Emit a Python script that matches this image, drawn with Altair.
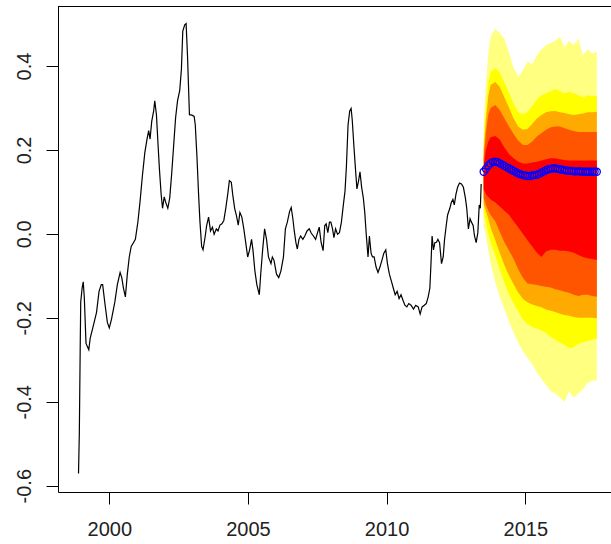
import altair as alt
import pandas as pd

# ---- historical series (decimal year, value) ----
hist_year = [1998.89, 1998.92, 1998.95, 1998.97, 1999.02, 1999.06, 1999.10, 1999.16, 1999.26, 1999.31,
             1999.42, 1999.54, 1999.63, 1999.71, 1999.76, 1999.85, 1999.93, 2000.00, 2000.08, 2000.20,
             2000.29, 2000.39, 2000.45, 2000.51, 2000.58, 2000.65, 2000.72, 2000.79, 2000.87, 2000.94,
             2001.03, 2001.11, 2001.19, 2001.28, 2001.36, 2001.42, 2001.47, 2001.53, 2001.60, 2001.64,
             2001.70, 2001.76, 2001.81, 2001.87, 2001.92, 2001.98, 2002.04, 2002.11, 2002.18, 2002.25,
             2002.32, 2002.39, 2002.46, 2002.54, 2002.60, 2002.65, 2002.72, 2002.77, 2002.82, 2002.89,
             2002.98, 2003.06, 2003.10, 2003.16, 2003.22, 2003.27, 2003.33, 2003.38, 2003.46, 2003.51,
             2003.58, 2003.65, 2003.72, 2003.78, 2003.86, 2003.92, 2003.99, 2004.06, 2004.13, 2004.20,
             2004.27, 2004.33, 2004.40, 2004.45, 2004.52, 2004.58, 2004.65, 2004.71, 2004.78, 2004.85,
             2004.92, 2004.99, 2005.06, 2005.13, 2005.18, 2005.25, 2005.32, 2005.41, 2005.46, 2005.53,
             2005.60, 2005.67, 2005.74, 2005.83, 2005.88, 2005.94, 2006.03, 2006.11, 2006.19, 2006.28,
             2006.35, 2006.42, 2006.50, 2006.56, 2006.62, 2006.67, 2006.73, 2006.78, 2006.84, 2006.90,
             2006.98, 2007.05, 2007.13, 2007.21, 2007.28, 2007.36, 2007.44, 2007.51, 2007.57, 2007.64,
             2007.71, 2007.77, 2007.82, 2007.88, 2007.94, 2007.99, 2008.05, 2008.10, 2008.16, 2008.23,
             2008.30, 2008.37, 2008.44, 2008.50, 2008.55, 2008.61, 2008.67, 2008.72, 2008.76, 2008.82,
             2008.88, 2008.93, 2008.99, 2009.04, 2009.10, 2009.16, 2009.21, 2009.27, 2009.33, 2009.38,
             2009.44, 2009.49, 2009.55, 2009.62, 2009.69, 2009.76, 2009.83, 2009.90, 2009.97, 2010.03,
             2010.10, 2010.17, 2010.24, 2010.31, 2010.38, 2010.45, 2010.52, 2010.59, 2010.66, 2010.73,
             2010.80, 2010.88, 2010.97, 2011.05, 2011.14, 2011.21, 2011.28, 2011.36, 2011.43, 2011.50,
             2011.56, 2011.60, 2011.64, 2011.69, 2011.74, 2011.80, 2011.85, 2011.91, 2011.98, 2012.04,
             2012.09, 2012.15, 2012.20, 2012.28, 2012.33, 2012.39, 2012.44, 2012.50, 2012.56, 2012.63,
             2012.70, 2012.77, 2012.84, 2012.89, 2012.95, 2013.01, 2013.06, 2013.12, 2013.17, 2013.23,
             2013.29, 2013.34, 2013.38, 2013.41]

hist_value = [-0.571, -0.472, -0.276, -0.162, -0.129, -0.114, -0.154, -0.261, -0.276, -0.249,
              -0.220, -0.187, -0.137, -0.121, -0.121, -0.170, -0.211, -0.224, -0.203, -0.162,
              -0.121, -0.092, -0.104, -0.129, -0.150, -0.096, -0.055, -0.030, -0.021, -0.013,
              0.028, 0.078, 0.136, 0.193, 0.226, 0.246, 0.226, 0.268, 0.293, 0.317,
              0.284, 0.210, 0.152, 0.094, 0.061, 0.088, 0.074, 0.061, 0.086, 0.144,
              0.210, 0.276, 0.317, 0.342, 0.392, 0.483, 0.498, 0.501, 0.425, 0.284,
              0.283, 0.280, 0.260, 0.185, 0.094, 0.028, -0.030, -0.038, -0.005, 0.020,
              0.040, 0.007, 0.016, -0.001, 0.012, 0.007, 0.021, 0.024, 0.032, 0.061,
              0.094, 0.127, 0.123, 0.094, 0.061, 0.045, 0.021, 0.051, 0.040, 0.012,
              -0.021, -0.055, -0.038, -0.013, -0.038, -0.088, -0.121, -0.145, -0.096, -0.038,
              0.012, -0.013, -0.055, -0.071, -0.055, -0.063, -0.096, -0.104, -0.088, -0.055,
              0.012, 0.028, 0.053, 0.063, 0.036, 0.007, -0.021, -0.036, -0.013, -0.005,
              -0.013, -0.005, 0.007, 0.012, 0.002, -0.005, -0.013, 0.003, 0.016, -0.021,
              -0.040, 0.020, 0.024, 0.003, 0.028, 0.028, 0.012, -0.009, 0.012, -0.001,
              0.003, 0.028, 0.069, 0.102, 0.160, 0.260, 0.293, 0.299, 0.272, 0.210,
              0.152, 0.107, 0.127, 0.148, 0.111, 0.086, 0.053, -0.005, -0.055, -0.005,
              -0.046, -0.055, -0.055, -0.079, -0.092, -0.079, -0.063, -0.046, -0.038, -0.071,
              -0.096, -0.112, -0.129, -0.145, -0.137, -0.154, -0.145, -0.158, -0.170, -0.174,
              -0.166, -0.170, -0.179, -0.170, -0.174, -0.191, -0.174, -0.170, -0.166, -0.150,
              -0.129, -0.071, -0.005, -0.038, -0.021, -0.020, -0.013, -0.021, -0.071, -0.055,
              -0.013, 0.020, 0.045, 0.061, 0.074, 0.082, 0.069, 0.094, 0.111, 0.121,
              0.119, 0.111, 0.086, 0.061, 0.012, 0.036, 0.028, 0.020, -0.005, -0.021,
              0.003, 0.069, 0.061, 0.119]

# ---- fan bounds (outer band 5 ... inner band 1) ----
fan_year = [2013.50, 2013.58, 2013.67, 2013.75, 2013.92, 2014.08, 2014.25, 2014.42, 2014.58,
            2014.75, 2014.92, 2015.08, 2015.25, 2015.42, 2015.58, 2015.75, 2015.92, 2016.08,
            2016.25, 2016.42, 2016.58, 2016.75, 2016.92, 2017.08, 2017.25, 2017.42, 2017.58]

upper5 = [0.25, 0.36, 0.43, 0.47, 0.489, 0.478, 0.465, 0.43, 0.395, 0.375, 0.39, 0.41, 0.405, 0.425,
          0.44, 0.45, 0.455, 0.46, 0.47, 0.445, 0.46, 0.45, 0.465, 0.425, 0.44, 0.43, 0.434]
upper4 = [0.22, 0.30, 0.36, 0.385, 0.395, 0.385, 0.36, 0.335, 0.31, 0.29, 0.285, 0.29, 0.305, 0.32,
          0.33, 0.335, 0.34, 0.345, 0.34, 0.335, 0.338, 0.335, 0.33, 0.325, 0.33, 0.328, 0.33]
upper3 = [0.20, 0.27, 0.33, 0.355, 0.362, 0.35, 0.325, 0.30, 0.275, 0.255, 0.248, 0.25, 0.262, 0.275,
          0.283, 0.29, 0.292, 0.293, 0.29, 0.288, 0.285, 0.283, 0.285, 0.287, 0.29, 0.29, 0.291]
upper2 = [0.18, 0.24, 0.285, 0.30, 0.307, 0.295, 0.275, 0.255, 0.238, 0.222, 0.212, 0.212, 0.22, 0.232,
          0.24, 0.248, 0.254, 0.256, 0.256, 0.252, 0.248, 0.245, 0.243, 0.243, 0.243, 0.243, 0.243]
upper1 = [0.16, 0.20, 0.22, 0.23, 0.233, 0.225, 0.205, 0.19, 0.18, 0.172, 0.168, 0.168, 0.17, 0.172,
          0.175, 0.178, 0.18, 0.18, 0.178, 0.176, 0.175, 0.175, 0.175, 0.175, 0.175, 0.175, 0.175]
lower1 = [0.105, 0.095, 0.088, 0.082, 0.075, 0.065, 0.055, 0.045, 0.03, 0.015, 0.0, -0.015, -0.03, -0.045,
          -0.055, -0.042, -0.038, -0.038, -0.04, -0.04, -0.042, -0.045, -0.05, -0.055, -0.058, -0.06, -0.062]
lower2 = [0.085, 0.07, 0.055, 0.045, 0.03, 0.005, -0.02, -0.04, -0.06, -0.085, -0.105, -0.118, -0.12, -0.122,
          -0.124, -0.126, -0.128, -0.132, -0.134, -0.138, -0.14, -0.145, -0.148, -0.145, -0.145, -0.148, -0.15]
lower3 = [0.07, 0.055, 0.035, 0.015, -0.015, -0.045, -0.075, -0.10, -0.12, -0.14, -0.155, -0.163, -0.168, -0.172,
          -0.175, -0.18, -0.183, -0.186, -0.19, -0.193, -0.195, -0.198, -0.2, -0.2, -0.2, -0.2, -0.201]
lower4 = [0.05, 0.03, 0.0, -0.02, -0.05, -0.085, -0.115, -0.145, -0.165, -0.185, -0.205, -0.215, -0.222, -0.226,
          -0.23, -0.236, -0.245, -0.252, -0.258, -0.265, -0.272, -0.27, -0.262, -0.258, -0.255, -0.252, -0.249]
lower5 = [0.02, -0.005, -0.04, -0.07, -0.115, -0.15, -0.18, -0.21, -0.235, -0.26, -0.28, -0.295, -0.31, -0.33,
          -0.345, -0.36, -0.375, -0.38, -0.39, -0.40, -0.375, -0.39, -0.38, -0.37, -0.355, -0.35, -0.348]

band_colors = ["#FF0000", "#FF5500", "#FFAA00", "#FFFF00", "#FFFF80"]  # inner -> outer

# ---- forecast points ----
point_year = [2013.50, 2013.58, 2013.67, 2013.75, 2013.83, 2013.92, 2014.00, 2014.08, 2014.17, 2014.25,
              2014.33, 2014.42, 2014.50, 2014.58, 2014.67, 2014.75, 2014.83, 2014.92, 2015.00, 2015.08,
              2015.17, 2015.25, 2015.33, 2015.42, 2015.50, 2015.58, 2015.67, 2015.75, 2015.83, 2015.92,
              2016.00, 2016.08, 2016.17, 2016.25, 2016.33, 2016.42, 2016.50, 2016.58, 2016.67, 2016.75,
              2016.83, 2016.92, 2017.00, 2017.08, 2017.17, 2017.25, 2017.33, 2017.42, 2017.50, 2017.58]
point_value = [0.148, 0.155, 0.163, 0.168, 0.171, 0.172, 0.171, 0.168, 0.165, 0.162,
               0.159, 0.156, 0.153, 0.150, 0.147, 0.144, 0.142, 0.140, 0.139, 0.138,
               0.138, 0.139, 0.140, 0.141, 0.143, 0.146, 0.149, 0.152, 0.154, 0.155,
               0.156, 0.156, 0.155, 0.154, 0.153, 0.152, 0.151, 0.150, 0.150, 0.149,
               0.149, 0.149, 0.149, 0.148, 0.148, 0.148, 0.148, 0.148, 0.148, 0.148]

x_ticks = [2000, 2005, 2010, 2015]
y_ticks = [-0.6, -0.4, -0.2, 0.0, 0.2, 0.4]

FONT = "Liberation Sans"
x_scale = alt.Scale(domain=[1998.150, 2018.092], nice=False, zero=False)
y_scale = alt.Scale(domain=[-0.615, 0.543], nice=False, zero=False)

x_axis = alt.Axis(values=x_ticks, format="d", tickSize=12, tickColor="black", tickWidth=1,
                  domainColor="black", domainWidth=1, labelFont=FONT, labelFontSize=20,
                  labelColor="#222222", labelPadding=31, labelBaseline="alphabetic",
                  labelFlush=False, labelOverlap=False, grid=False, title=None)
y_axis = alt.Axis(values=y_ticks, tickSize=12, tickColor="black", tickWidth=1,
                  domainColor="black", domainWidth=1, labelFont=FONT, labelFontSize=20,
                  labelColor="#222222", labelPadding=16, labelAngle=270, labelAlign="center",
                  labelBaseline="alphabetic", labelFlush=False, labelOverlap=False, grid=False,
                  title=None,
                  labelExpr="(datum.value < -0.0001 ? '-' : '') + format(abs(datum.value), '.1f')")


def X(field):
    return alt.X(field, type="quantitative", scale=x_scale, axis=x_axis, title=None)


def Y(field):
    return alt.Y(field, type="quantitative", scale=y_scale, axis=y_axis, title=None)


uppers = [upper1, upper2, upper3, upper4, upper5]
lowers = [lower1, lower2, lower3, lower4, lower5]

layers = []
for k in range(4, -1, -1):
    df = pd.DataFrame({"year": fan_year, "lo": lowers[k], "hi": uppers[k]})
    layers.append(
        alt.Chart(df).mark_area(color=band_colors[k], interpolate="linear", opacity=1)
        .encode(x=X("year"), y=Y("lo"), y2=alt.Y2("hi"))
    )

hist_df = pd.DataFrame({"year": hist_year, "value": hist_value})
layers.append(
    alt.Chart(hist_df).mark_line(color="black", strokeWidth=1.2)
    .encode(x=X("year"), y=Y("value"))
)

pts_df = pd.DataFrame({"year": point_year, "value": point_value})
layers.append(
    alt.Chart(pts_df).mark_point(shape="circle", filled=False, color="#0000FF", size=50,
                                 strokeWidth=1.3, opacity=1)
    .encode(x=X("year"), y=Y("value"))
)

frame_df = pd.DataFrame({"k": [0]})
layers.append(
    alt.Chart(frame_df).mark_rule(color="black", strokeWidth=1)
    .encode(y=alt.value(0.5))
)

chart = alt.layer(*layers).properties(
    width=553, height=486,
    padding={"left": 58, "top": 6, "right": 0, "bottom": 52},
    autosize=alt.AutoSizeParams(type="none"),
    background="white",
).configure_view(strokeWidth=0)

chart.save("out.html", embed_options={"renderer": "svg", "actions": False})
